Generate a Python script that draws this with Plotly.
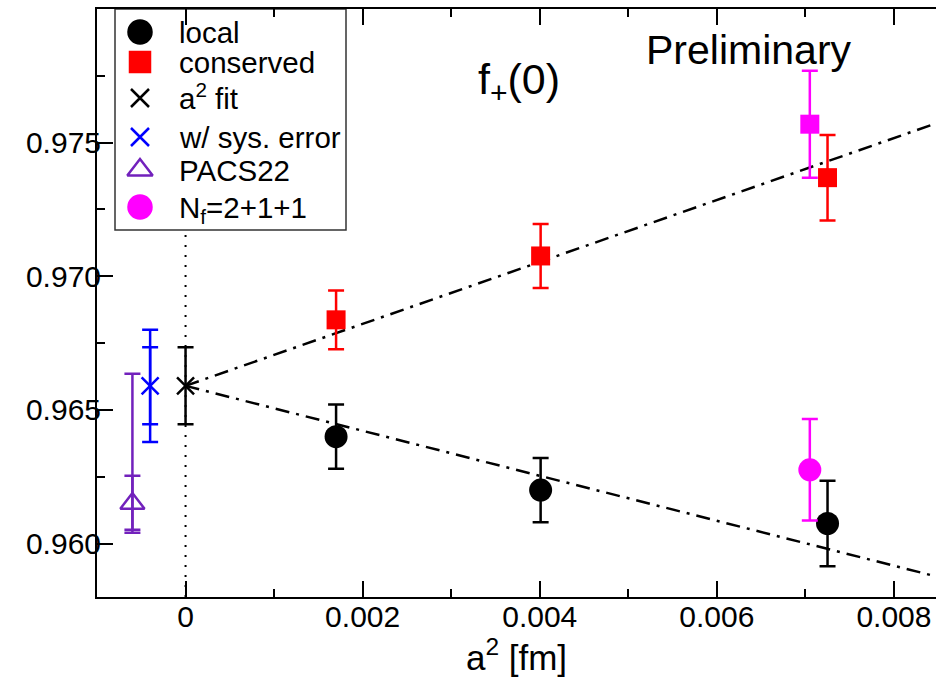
import plotly.graph_objects as go

# ---------------- data ----------------
a2 = [0.0017, 0.00401, 0.00725]
local_f = [0.9640, 0.9620, 0.96075]
local_err = [0.0012, 0.0012, 0.0016]
cons_f = [0.96837, 0.97076, 0.97369]
cons_err = [0.0011, 0.0012, 0.0016]

nf4_x = [0.00705]
nf4_local = [0.96276]
nf4_local_err = [0.0019]
nf4_cons = [0.97569]
nf4_cons_err = [0.0020]

fit_x = [0.0]
fit_y = [0.9659]
fit_err = [0.00144]

sys_x = [-0.0004]
sys_y = [0.9659]
sys_err_stat = [0.00144]
sys_err_tot = [0.0021]

pacs_x = [-0.0006]
pacs_y = [0.9615]
pacs_err_in_p = [0.00104]
pacs_err_in_m = [0.00098]
pacs_err_out_p = [0.00485]
pacs_err_out_m = [0.0011]

line_x = [0.0, 0.0085]
line_cons = [0.9659, 0.97575]
line_local = [0.9659, 0.95875]

x_ticks = [0, 0.002, 0.004, 0.006, 0.008]
x_ticktext = ["0", "0.002", "0.004", "0.006", "0.008"]
y_ticks = [0.960, 0.965, 0.970, 0.975]
y_ticktext = ["0.960", "0.965", "0.970", "0.975"]

legend_labels = ["local", "conserved", "a<sup>2</sup> fit", "w/ sys. error",
                 "PACS22", "N<sub>f</sub>=2+1+1"]

# ---------------- style ----------------
FONT = "Liberation Sans, Arial, Helvetica, sans-serif"
BLACK = "#000000"
RED = "#ff0000"
MAG = "#ff00ff"
BLUE = "#0000ff"
PURP = "#7221bc"
EW = 2.5   # error bar thickness
CW = 8     # cap half-width

def err(arr, color, arrm=None, width=CW):
    d = dict(type="data", array=arr, color=color, thickness=EW, width=width, visible=True)
    if arrm is not None:
        d["arrayminus"] = arrm
        d["symmetric"] = False
    return d

fig = go.Figure()

dashdot = "14px,7px,3px,7px"
fig.add_trace(go.Scatter(x=line_x, y=line_cons, mode="lines",
                         line=dict(color=BLACK, width=2.5, dash=dashdot),
                         showlegend=False, hoverinfo="skip"))
fig.add_trace(go.Scatter(x=line_x, y=line_local, mode="lines",
                         line=dict(color=BLACK, width=2.5, dash=dashdot),
                         showlegend=False, hoverinfo="skip"))

# PACS22 (outer + inner errors)
fig.add_trace(go.Scatter(x=pacs_x, y=pacs_y, mode="markers",
                         marker=dict(size=0.1, color=PURP),
                         error_y=err(pacs_err_out_p, PURP, pacs_err_out_m),
                         showlegend=False))
fig.add_trace(go.Scatter(x=pacs_x, y=pacs_y, mode="markers", name="PACS22",
                         marker=dict(symbol="triangle-up-open", size=21, color=PURP,
                                     line=dict(width=2.5, color=PURP)),
                         error_y=err(pacs_err_in_p, PURP, pacs_err_in_m),
                         showlegend=False))
# w/ sys error
fig.add_trace(go.Scatter(x=sys_x, y=sys_y, mode="markers",
                         marker=dict(size=0.1, color=BLUE),
                         error_y=err(sys_err_tot, BLUE), showlegend=False))
fig.add_trace(go.Scatter(x=sys_x, y=sys_y, mode="markers", name="w/ sys. error",
                         marker=dict(symbol="x-thin", size=17, color=BLUE,
                                     line=dict(width=2.5, color=BLUE)),
                         error_y=err(sys_err_stat, BLUE), showlegend=False))
# a^2 fit
fig.add_trace(go.Scatter(x=fit_x, y=fit_y, mode="markers", name="a2 fit",
                         marker=dict(symbol="x-thin", size=17, color=BLACK,
                                     line=dict(width=2.5, color=BLACK)),
                         error_y=err(fit_err, BLACK), showlegend=False))
# local / conserved
fig.add_trace(go.Scatter(x=a2, y=cons_f, mode="markers", name="conserved",
                         marker=dict(symbol="square", size=19, color=RED),
                         error_y=err(cons_err, RED), showlegend=False))
fig.add_trace(go.Scatter(x=a2, y=local_f, mode="markers", name="local",
                         marker=dict(symbol="circle", size=23, color=BLACK),
                         error_y=err(local_err, BLACK), showlegend=False))
# Nf=2+1+1
fig.add_trace(go.Scatter(x=nf4_x, y=nf4_cons, mode="markers",
                         marker=dict(symbol="square", size=19, color=MAG),
                         error_y=err(nf4_cons_err, MAG), showlegend=False))
fig.add_trace(go.Scatter(x=nf4_x, y=nf4_local, mode="markers", name="Nf=2+1+1",
                         marker=dict(symbol="circle", size=23, color=MAG),
                         error_y=err(nf4_local_err, MAG), showlegend=False))

# ---------------- hand-drawn legend (pixel-coordinate overlay axes) ----------------
L, R, T, B = 97, 936, 9, 597
leg_rows = [32, 62, 98, 137, 170, 207]
leg_sym = ["circle", "square", "x-thin", "x-thin", "triangle-up-open", "circle"]
leg_col = [BLACK, RED, BLACK, BLUE, PURP, MAG]
leg_size = [23, 20, 18, 18, 22, 23]
for s, c, sz, yy in zip(leg_sym, leg_col, leg_size, leg_rows):
    fig.add_trace(go.Scatter(x=[140], y=[yy], xaxis="x3", yaxis="y3", mode="markers",
                             marker=dict(symbol=s, size=sz, color=c,
                                         line=dict(width=2.5, color=c)),
                             showlegend=False, hoverinfo="skip"))
text_dy = [0, 0, -2, 0, 0, 2]
for lab, yy, dy in zip(legend_labels, leg_rows, text_dy):
    fig.add_annotation(x=177, y=yy + dy, xref="x3", yref="y3", text=lab,
                       showarrow=False, xanchor="left", yanchor="middle",
                       font=dict(family=FONT, size=29.5, color=BLACK))

shapes = [
    dict(type="line", xref="x", yref="paper", x0=0, x1=0, y0=0, y1=1,
         line=dict(color=BLACK, width=2, dash="2px,8px"), layer="below"),
    dict(type="rect", xref="x3", yref="y3", x0=115, x1=346, y0=9, y1=230,
         line=dict(color="#333333", width=1.5), fillcolor="white", layer="below"),
]

fig.add_annotation(x=519, y=82, xref="x3", yref="y3", text="f<sub>+</sub>(0)",
                   showarrow=False, font=dict(family=FONT, size=43, color=BLACK))
fig.add_annotation(x=749, y=50, xref="x3", yref="y3", text="Preliminary",
                   showarrow=False, font=dict(family=FONT, size=41, color=BLACK))

axis_common = dict(showgrid=False, zeroline=False, ticks="inside",
                   tickwidth=1.5, tickcolor=BLACK, linecolor=BLACK, linewidth=2,
                   tickfont=dict(family=FONT, size=30, color=BLACK))

fig.update_layout(
    width=936, height=682,
    margin=dict(l=L, r=936 - R, t=T, b=682 - B, pad=0),
    paper_bgcolor="white", plot_bgcolor="white",
    showlegend=False,
    shapes=shapes,
    xaxis=dict(range=[-0.001, 0.008475], tickvals=x_ticks, ticktext=x_ticktext,
               ticklen=16, showline=True, mirror="ticks", ticklabelstandoff=-8,
               minor=dict(dtick=0.001, tick0=0, ticklen=8, ticks="inside",
                          tickwidth=1.5, tickcolor=BLACK),
               title=dict(text="a<sup>2</sup> [fm]", standoff=4,
                          font=dict(family=FONT, size=35, color=BLACK)),
               **axis_common),
    yaxis=dict(range=[0.958, 0.980], tickvals=y_ticks, ticktext=y_ticktext,
               ticklen=16, showline=True, mirror=False, ticklabelstandoff=-12,
               minor=dict(dtick=0.0025, tick0=0.96, ticklen=8, ticks="inside",
                          tickwidth=1.5, tickcolor=BLACK),
               **axis_common),
    yaxis2=dict(range=[0.958, 0.980], overlaying="y", side="right", anchor="x",
                tickvals=y_ticks, ticklen=16, showticklabels=False, showline=False,
                showgrid=False, zeroline=False, ticks="inside", tickwidth=1.5,
                tickcolor=BLACK,
                minor=dict(dtick=0.0025, tick0=0.96, ticklen=8, ticks="inside",
                           tickwidth=1.5, tickcolor=BLACK)),
    xaxis3=dict(range=[L, R], overlaying="x", anchor="y3", visible=False,
                showticklabels=False, fixedrange=True),
    yaxis3=dict(range=[B, T], overlaying="y", anchor="x3", visible=False,
                showticklabels=False, fixedrange=True),
)

fig.write_html("out.html")
